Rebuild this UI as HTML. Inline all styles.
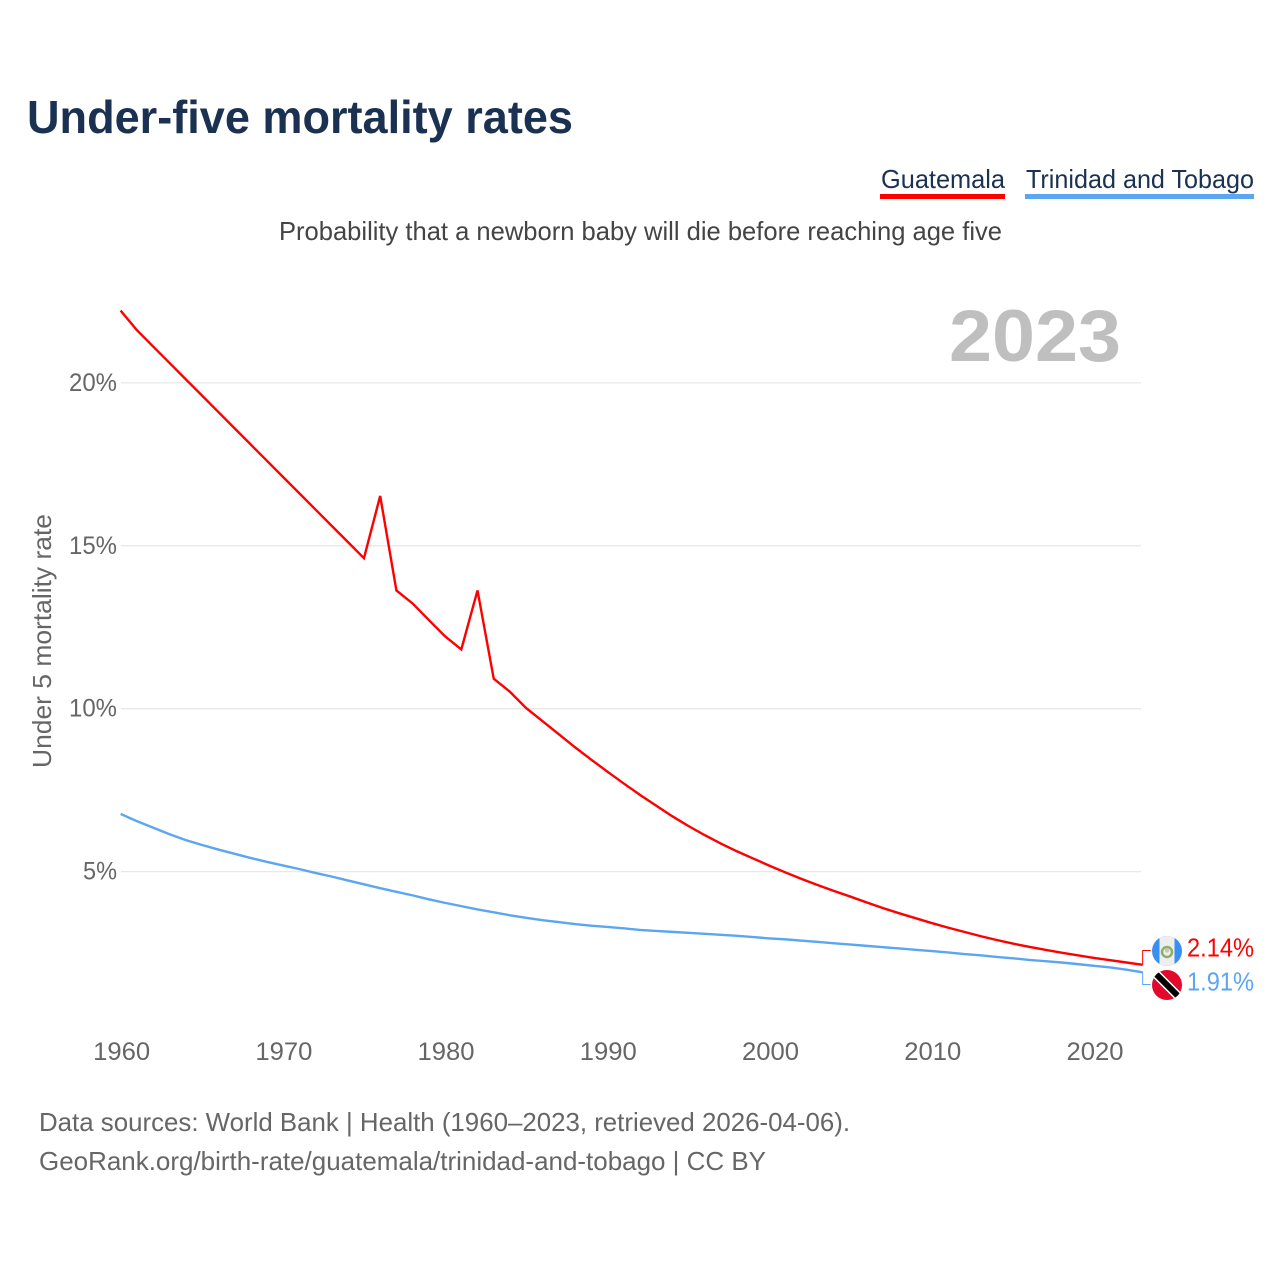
<!DOCTYPE html>
<html lang="en">
<head>
<meta charset="utf-8">
<title>Under-five mortality rates</title>
<style>
html,body{margin:0;padding:0;background:#fff;}
svg{display:block;font-family:"Liberation Sans",sans-serif;}
</style>
</head>
<body>
<svg id="chart" width="1280" height="1280" viewBox="0 0 1280 1280" xmlns="http://www.w3.org/2000/svg">
  <rect width="1280" height="1280" fill="#fff"/>
  <text x="27" y="133" font-size="46" font-weight="700" fill="#1a3151" textLength="546" lengthAdjust="spacingAndGlyphs">Under-five mortality rates</text>

  <g>
    <text x="881" y="188" font-size="26" fill="#1a3151" textLength="124" lengthAdjust="spacingAndGlyphs">Guatemala</text>
    <rect x="880" y="194" width="125" height="5" fill="#ff0000"/>
  </g>
  <g>
    <text x="1026" y="188" font-size="26" fill="#1a3151" textLength="228" lengthAdjust="spacingAndGlyphs">Trinidad and Tobago</text>
    <rect x="1025" y="194" width="229" height="5" fill="#5ba6f0"/>
  </g>

  <text x="279" y="240" font-size="26" fill="#444" textLength="723" lengthAdjust="spacingAndGlyphs">Probability that a newborn baby will die before reaching age five</text>
  <text x="949" y="361" font-size="73" font-weight="700" fill="#bfbfbf" textLength="172" lengthAdjust="spacingAndGlyphs">2023</text>
  <text transform="translate(51,768) rotate(-90)" x="0" y="0" font-size="26" fill="#666" textLength="254" lengthAdjust="spacingAndGlyphs">Under 5 mortality rate</text>

  <g id="grid"></g>
  <g id="yticks"></g>
  <g id="xticks"></g>
  <g id="series"></g>

  <g>
    <circle cx="1167" cy="951" r="15" fill="#3a90f2"/>
    <path d="M1159.5 938 A15 15 0 0 1 1174.5 938 L1174.5 964 A15 15 0 0 1 1159.5 964 Z" fill="#eeeeee"/>
    <circle cx="1167" cy="952" r="5" fill="none" stroke="#8fae6a" stroke-width="2.5"/>
    <circle cx="1167" cy="950.5" r="2.2" fill="#c9c9a8"/>
  </g>
  <g>
    <clipPath id="ttclip"><circle cx="1167" cy="985" r="15"/></clipPath>
    <circle cx="1167" cy="985" r="15" fill="#e2092c"/>
    <g clip-path="url(#ttclip)">
      <line x1="1152" y1="970" x2="1182" y2="1000" stroke="#fff" stroke-width="9"/>
      <line x1="1152" y1="970" x2="1182" y2="1000" stroke="#000" stroke-width="6"/>
    </g>
  </g>

  <text x="1187" y="956.5" font-size="26" fill="#ff0000" textLength="67" lengthAdjust="spacingAndGlyphs">2.14%</text>
  <text x="1187" y="990.5" font-size="26" fill="#5ba6f0" textLength="67" lengthAdjust="spacingAndGlyphs">1.91%</text>

  <text x="39" y="1131" font-size="26" fill="#666" textLength="811" lengthAdjust="spacingAndGlyphs">Data sources: World Bank | Health (1960–2023, retrieved 2026-04-06).</text>
  <text x="39" y="1170" font-size="26" fill="#666" textLength="727" lengthAdjust="spacingAndGlyphs">GeoRank.org/birth-rate/guatemala/trinidad-and-tobago | CC BY</text>
</svg>
<script>
const startYear = 1960;
const guatemala = [22.22,21.62,21.12,20.62,20.12,19.62,19.12,18.62,18.12,17.62,17.12,16.62,16.12,15.62,15.12,14.62,16.53,13.63,13.23,12.72,12.22,11.82,13.63,10.92,10.52,10.02,9.62,9.22,8.82,8.44,8.07,7.71,7.36,7.03,6.7,6.4,6.12,5.86,5.62,5.4,5.18,4.97,4.77,4.58,4.4,4.23,4.05,3.88,3.72,3.57,3.42,3.28,3.15,3.02,2.9,2.79,2.69,2.6,2.51,2.43,2.35,2.28,2.21,2.14];
const trinidad = [6.77,6.55,6.35,6.15,5.97,5.82,5.68,5.55,5.42,5.3,5.19,5.08,4.96,4.85,4.73,4.61,4.49,4.38,4.27,4.15,4.04,3.94,3.84,3.75,3.66,3.58,3.51,3.45,3.39,3.34,3.3,3.26,3.21,3.18,3.15,3.12,3.09,3.06,3.03,2.99,2.95,2.92,2.88,2.84,2.8,2.76,2.72,2.68,2.64,2.6,2.56,2.52,2.47,2.43,2.38,2.34,2.29,2.25,2.21,2.16,2.11,2.06,1.99,1.91];
const yTickValues = [5,10,15,20];
const yTickLabels = ['5%','10%','15%','20%'];
const xTickYears = [1960,1970,1980,1990,2000,2010,2020];
const xTickLabels = ['1960','1970','1980','1990','2000','2010','2020'];

const NS = 'http://www.w3.org/2000/svg';
function xScale(year){ return 120.6 + (year - 1960) * (1094 - 120.6) / 60; }
function yScale(v){ return 1034.5 - v * 32.58; }
function make(tag, attrs, parent){
  const el = document.createElementNS(NS, tag);
  for (const k in attrs) el.setAttribute(k, attrs[k]);
  parent.appendChild(el);
  return el;
}
const gridG = document.getElementById('grid');
const yG = document.getElementById('yticks');
const xG = document.getElementById('xticks');
const seriesG = document.getElementById('series');

yTickValues.forEach(function(v, i){
  const y = yScale(v);
  const line = make('line', {x1:121, x2:1141, y1:y, y2:y, stroke:'#e8e8e8', 'stroke-width':1.3}, gridG);
  
  
  const tickWidth = yTickLabels[i].length === 2 ? 34 : 48;
  const t = make('text', {x:117 - tickWidth, y:y + 8, 'font-size':25, fill:'#666', textLength:tickWidth, lengthAdjust:'spacingAndGlyphs'}, yG);
  
  
  t.textContent = yTickLabels[i];
});

xTickYears.forEach(function(yr, i){
  const t = make('text', {x:xScale(yr) + 1, y:1060, 'text-anchor':'middle', 'font-size':25, fill:'#666', textLength:57, lengthAdjust:'spacingAndGlyphs'}, xG);
  
  
  t.textContent = xTickLabels[i];
});

function drawSeries(values, color, name, connectorY){
  const pts = values.map(function(v, i){
    return xScale(startYear + i).toFixed(2) + ',' + yScale(v).toFixed(2);
  });
  const line = make('polyline', {points:pts.join(' '), fill:'none', stroke:color, 'stroke-width':2.4, 'stroke-linejoin':'miter'}, seriesG);
  
  
  const lastX = xScale(startYear + values.length - 1);
  const lastY = yScale(values[values.length - 1]);
  const conn = make('polyline', {points:lastX + ',' + lastY + ' ' + lastX + ',' + connectorY + ' ' + (lastX + 8) + ',' + connectorY, fill:'none', stroke:color, 'stroke-width':1}, seriesG);
  
  
}
drawSeries(trinidad, '#5ba6f0', 'trinidad-and-tobago', 984.5);
drawSeries(guatemala, '#ff0000', 'guatemala', 950.5);
</script>
</body>
</html>
